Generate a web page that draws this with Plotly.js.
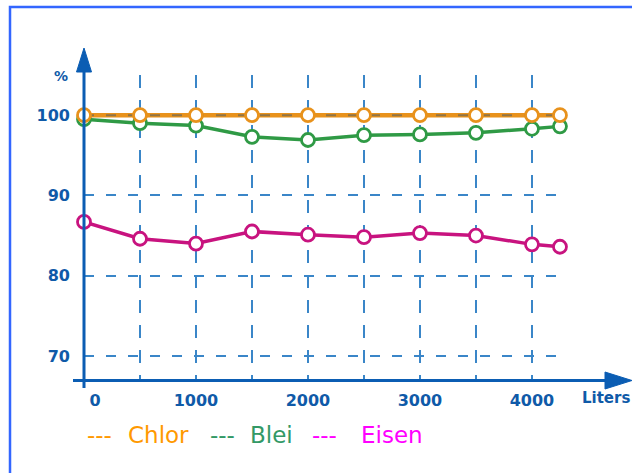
<!DOCTYPE html>
<html>
<head>
<meta charset="utf-8">
<script src="https://cdn.plot.ly/plotly-3.0.1.min.js"></script>
<style>
  html, body { margin: 0; padding: 0; background: #ffffff; overflow: hidden; }
  #chart { width: 632px; height: 473px; }
</style>
</head>
<body>
<div id="chart"></div>
<script>
// ---- data ----
const liters = [0, 500, 1000, 1500, 2000, 2500, 3000, 3500, 4000, 4250];
const chlor  = [100, 100, 100, 100, 100, 100, 100, 100, 100, 100];
const blei   = [99.5, 99.0, 98.7, 97.3, 96.9, 97.5, 97.6, 97.8, 98.3, 98.6];
const eisen  = [86.7, 84.6, 84.0, 85.5, 85.1, 84.8, 85.3, 85.0, 83.9, 83.6];
const seriesNames = ['Chlor', 'Blei', 'Eisen'];
const xTickVals = [0, 500, 1000, 1500, 2000, 2500, 3000, 3500, 4000];
const xTickText = ['\u2007\u20070', '', '1000', '', '2000', '', '3000', '', '4000'];
const yTickVals = [70, 80, 90, 100];
const yTickText = ['70', '80', '90', '100'];
const xTitle = 'Liters';
const yTitle = '%';

// ---- styles ----
const lineColors = ['#e8921c', '#2f9a45', '#c8137f'];
const legendColors = ['#ff9900', '#339966', '#ff00ff'];
const axisColor = '#0b5db3';
const gridColor = '#3a86c8';
const textColor = '#0f5aa8';
const xRange = [0, 4295];
const yRange = [67, 105];

// pixel -> paper helpers (plot area: x 84..565, y 75..380)
const L = 84, R = 565, T = 75, B = 380;
const X = px => (px - L) / (R - L);
const Y = py => (B - py) / (B - T);

const series = [chlor, blei, eisen];
function lineTrace(i) {
  return { x: liters, y: series[i], name: seriesNames[i], type: 'scatter', mode: 'lines',
    cliponaxis: false, line: { color: lineColors[i], width: i === 0 ? 4.5 : 3.5 }, hoverinfo: 'skip' };
}
function markerTrace(i) {
  return { x: liters, y: series[i], name: seriesNames[i], type: 'scatter', mode: 'markers',
    cliponaxis: false,
    marker: { symbol: 'circle', size: 13, color: '#ffffff', line: { color: lineColors[i], width: 2.8 } },
    hoverinfo: 'x+y+name' };
}
// the 100 % grid line shows through the Chlor line in the original
const gridOverlay = { x: xRange, y: [yTickVals[3], yTickVals[3]], type: 'scatter', mode: 'lines',
  cliponaxis: false, line: { color: 'rgba(40,80,120,0.45)', width: 2, dash: '10px,12px' }, hoverinfo: 'skip' };

const data = [lineTrace(2), markerTrace(2), lineTrace(1), markerTrace(1), lineTrace(0), gridOverlay, markerTrace(0)];

const shapes = [
  // border (top and left edges only)
  { type: 'path', xref: 'paper', yref: 'paper',
    path: `M ${X(640)},${Y(7)} L ${X(10)},${Y(7)} L ${X(10)},${Y(480)}`,
    line: { color: '#3366ff', width: 2.5 } },
  // y axis
  { type: 'line', xref: 'paper', yref: 'paper', x0: X(84), y0: Y(388), x1: X(84), y1: Y(70),
    line: { color: axisColor, width: 3 }, layer: 'above' },
  { type: 'path', xref: 'paper', yref: 'paper',
    path: `M ${X(76.5)},${Y(72)} L ${X(84)},${Y(48)} L ${X(91.5)},${Y(72)} Z`,
    fillcolor: axisColor, line: { color: axisColor, width: 1 }, layer: 'above' },
  // x axis
  { type: 'line', xref: 'paper', yref: 'paper', x0: X(73), y0: Y(380.5), x1: X(608), y1: Y(380.5),
    line: { color: axisColor, width: 3 }, layer: 'above' },
  { type: 'path', xref: 'paper', yref: 'paper',
    path: `M ${X(605)},${Y(372)} L ${X(632)},${Y(380.5)} L ${X(605)},${Y(389)} Z`,
    fillcolor: axisColor, line: { color: axisColor, width: 1 }, layer: 'above' }
];

const titleFont = { family: 'DejaVu Sans', color: textColor, weight: 'bold' };
const legendFont = { family: 'DejaVu Sans', size: 23 };

const annotations = [
  { text: yTitle, xref: 'paper', yref: 'paper', x: X(61), y: Y(76), xanchor: 'center', yanchor: 'middle',
    showarrow: false, font: Object.assign({ size: 14 }, titleFont) },
  { text: xTitle, xref: 'paper', yref: 'paper', x: X(606), y: Y(398), xanchor: 'center', yanchor: 'middle',
    showarrow: false, font: Object.assign({ size: 15 }, titleFont) }
];
const legendDashX = [85, 208, 310];
const legendNameX = [126, 248, 359];
seriesNames.forEach((n, i) => {
  annotations.push({ text: '---', xref: 'paper', yref: 'paper', x: X(legendDashX[i]), y: Y(435),
    xanchor: 'left', yanchor: 'middle', showarrow: false,
    font: Object.assign({ color: legendColors[i] }, legendFont) });
  annotations.push({ text: n, xref: 'paper', yref: 'paper', x: X(legendNameX[i]), y: Y(435),
    xanchor: 'left', yanchor: 'middle', showarrow: false,
    font: Object.assign({ color: legendColors[i] }, legendFont) });
});

const layout = {
  width: 632, height: 473,
  margin: { l: L, r: 632 - R, t: T, b: 473 - B, pad: 0 },
  paper_bgcolor: '#ffffff', plot_bgcolor: '#ffffff',
  showlegend: false,
  xaxis: {
    range: xRange, tickmode: 'array', tickvals: xTickVals, ticktext: xTickText,
    showgrid: true, gridcolor: gridColor, gridwidth: 2, griddash: '13px,12px',
    zeroline: false, showline: false, ticks: '', ticklabelstandoff: 9,
    tickfont: Object.assign({ size: 16 }, titleFont), fixedrange: true
  },
  yaxis: {
    range: yRange, tickmode: 'array', tickvals: yTickVals, ticktext: yTickText,
    showgrid: true, gridcolor: gridColor, gridwidth: 2, griddash: '10px,12px',
    zeroline: false, showline: false, ticks: '', ticklabelstandoff: 13,
    tickfont: Object.assign({ size: 16 }, titleFont), fixedrange: true
  },
  shapes: shapes,
  annotations: annotations
};

Plotly.newPlot('chart', data, layout, { displayModeBar: false });
</script>
</body>
</html>
